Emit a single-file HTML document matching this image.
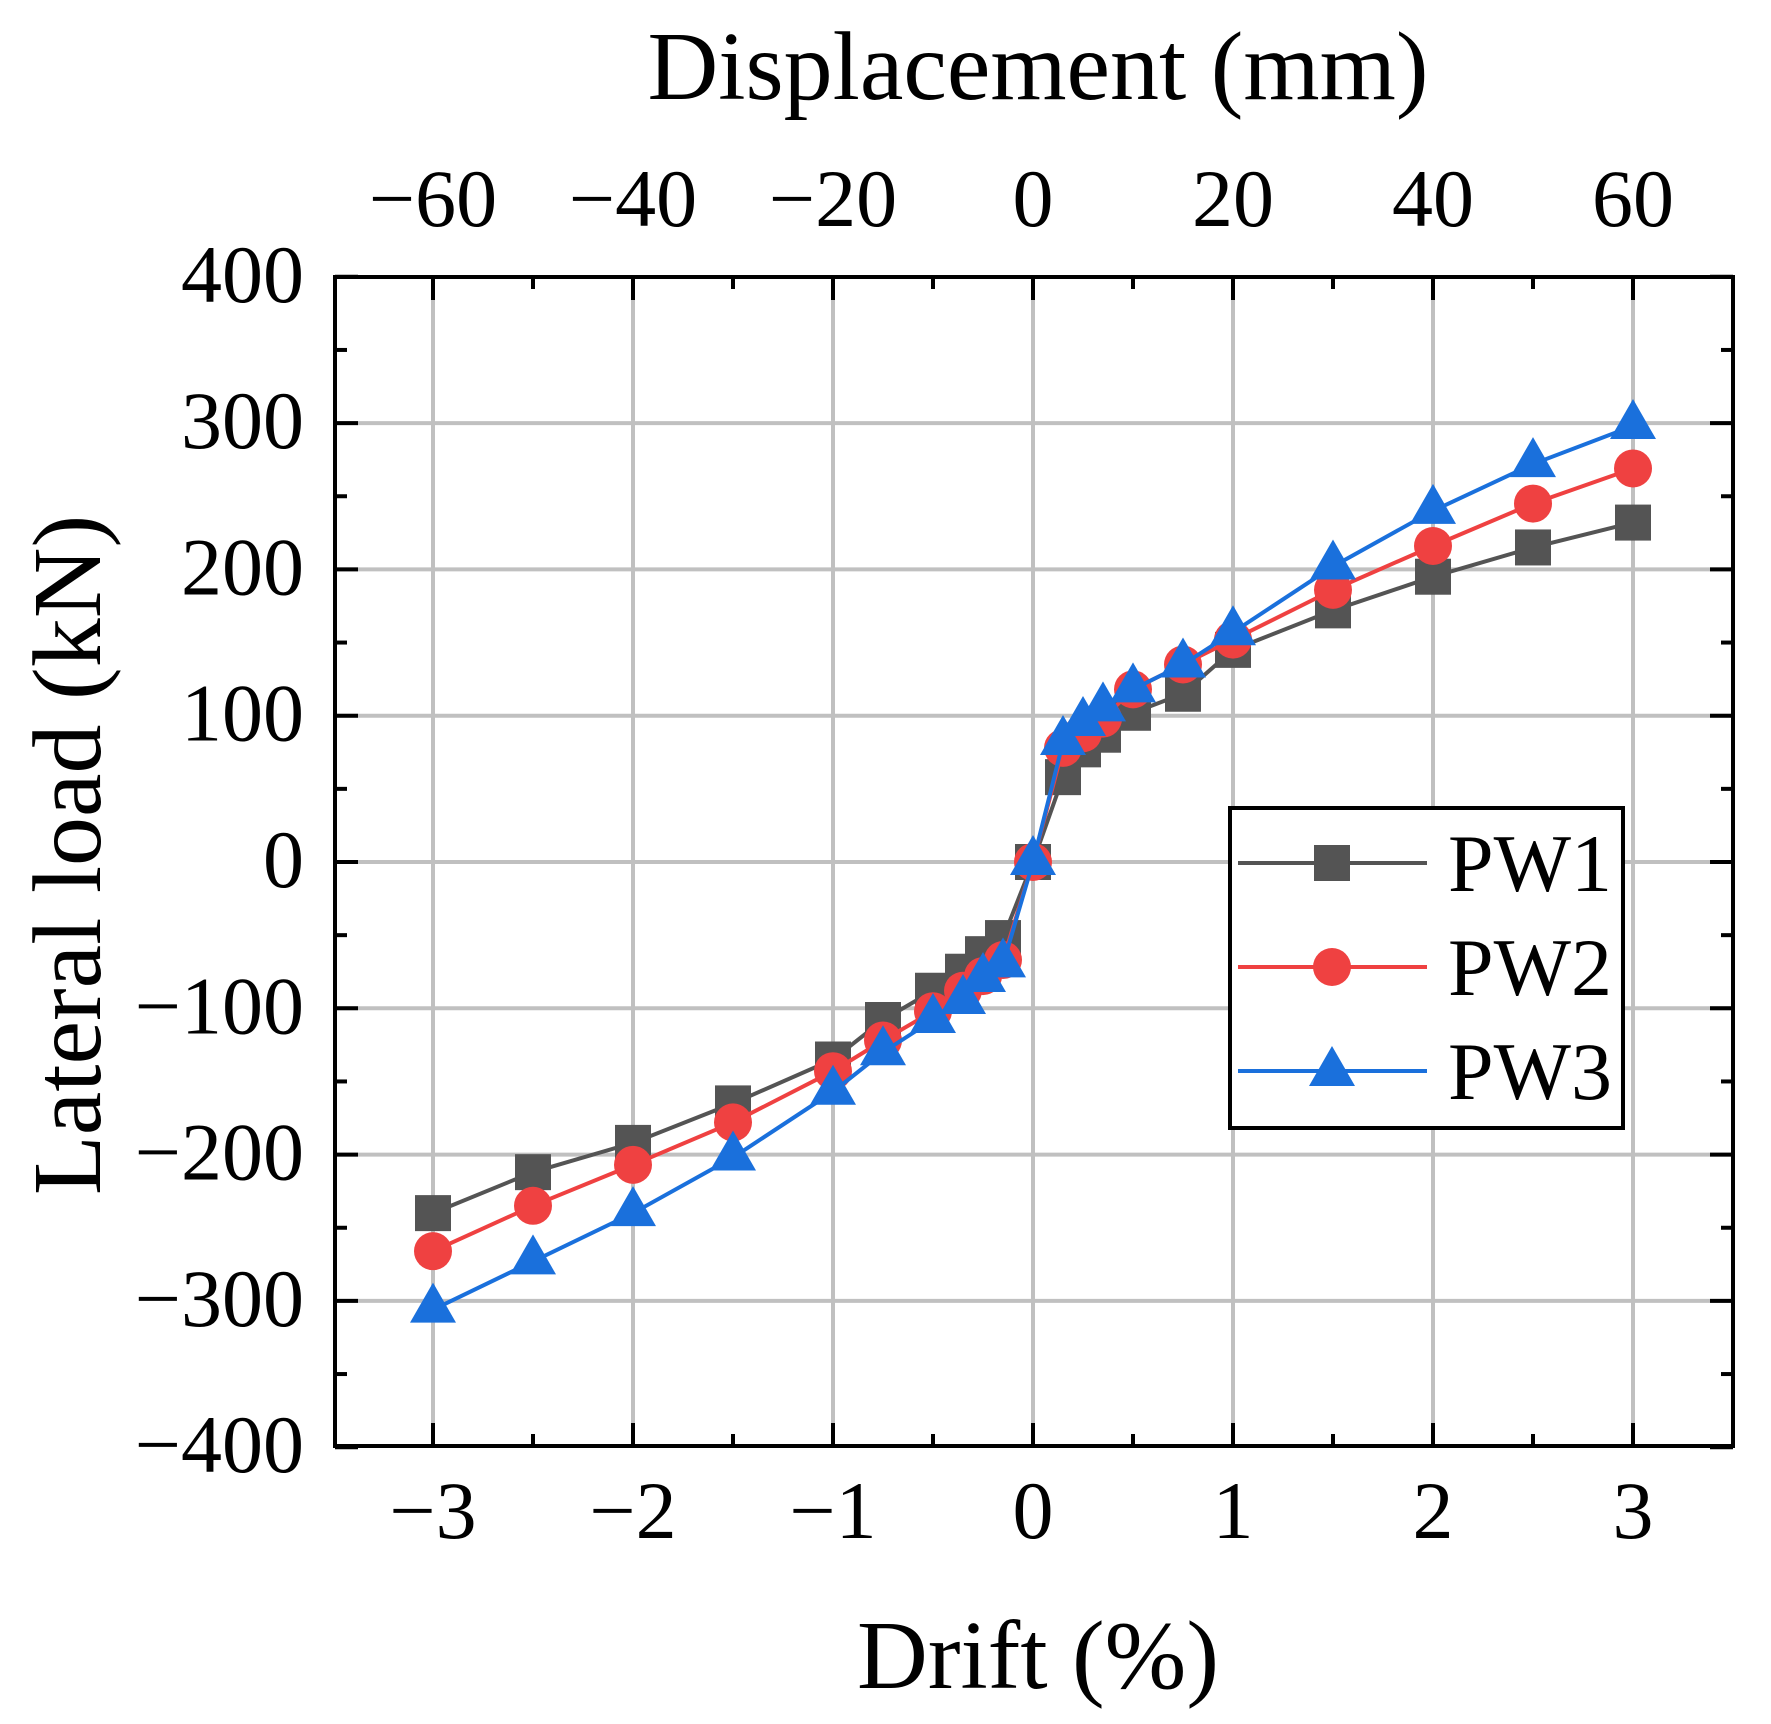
<!DOCTYPE html>
<html><head><meta charset="utf-8"><style>
html,body{margin:0;padding:0;background:#fff;}
svg{display:block;font-family:"Liberation Serif","Times New Roman",serif;}
</style></head><body>
<svg id="chart" width="1771" height="1724" viewBox="0 0 1771 1724" xmlns="http://www.w3.org/2000/svg">
<g id="grid"></g>
<g id="series"></g>
<rect x="335" y="277" width="1398" height="1169" fill="none" stroke="#000" stroke-width="4"/>
<g id="ticks"></g>
<g id="labels" font-size="82" fill="#000"></g>
<text x="1038" y="99" font-size="98" text-anchor="middle">Displacement (mm)</text>
<text x="1038" y="1688" font-size="98" text-anchor="middle">Drift (%)</text>
<text transform="translate(100,855) rotate(-90)" font-size="98" text-anchor="middle">Lateral load (kN)</text>
<g id="legend">
<rect x="1230" y="808" width="393" height="320" fill="#fff" stroke="#000" stroke-width="4"/>
</g>
</svg>
<script>
const drift = [-3,-2.5,-2,-1.5,-1,-0.75,-0.5,-0.35,-0.25,-0.15,0,0.15,0.25,0.35,0.5,0.75,1,1.5,2,2.5,3];
const pw1 = [-240,-212,-192,-165,-135,-108,-88,-75,-63,-52,0,58,77,87,102,115,145,172,195,215,232];
const pw2 = [-266,-235,-207,-178,-143,-122,-102,-88,-78,-67,0,78,88,98,118,135,152,186,216,245,269];
const pw3 = [-306,-273,-240,-202,-157,-130,-108,-95,-80,-70,0,82,95,105,118,135,157,202,240,272,298];
const seriesNames = ["PW1","PW2","PW3"];
const xTicks = [-3,-2,-1,0,1,2,3];
const xTickLabels = ["\u22123","\u22122","\u22121","0","1","2","3"];
const topTickLabels = ["\u221260","\u221240","\u221220","0","20","40","60"];
const yTicks = [-400,-300,-200,-100,0,100,200,300,400];
const yTickLabels = ["\u2212400","\u2212300","\u2212200","\u2212100","0","100","200","300","400"];

const NS="http://www.w3.org/2000/svg";
const X = d => 1033 + d*200;
const Y = v => 862 - v*1.463;
function mk(tag, attrs, parent){const e=document.createElementNS(NS,tag);for(const k in attrs)e.setAttribute(k,attrs[k]);parent.appendChild(e);return e;}
const grid=document.getElementById('grid'), ticks=document.getElementById('ticks'), labels=document.getElementById('labels'), ser=document.getElementById('series'), leg=document.getElementById('legend');
const L=335,R=1733,T=277,B=1446;
xTicks.forEach((d,i)=>{
  const x=X(d);
  const g=mk('line',{x1:x,y1:T,x2:x,y2:B,stroke:'#c0c0c0','stroke-width':4},grid);
  
  
  [[B,B-23],[T,T+23]].forEach(p=>{const t=mk('line',{x1:x,y1:p[0],x2:x,y2:p[1],stroke:'#000','stroke-width':4},ticks);
    
    });
  const xm=X(d+0.5);
  if(xm<R-5){[[B,B-12],[T,T+12]].forEach(p=>{const t=mk('line',{x1:xm,y1:p[0],x2:xm,y2:p[1],stroke:'#000','stroke-width':4},ticks);
    
    });}
  const lb=mk('text',{x:x,y:1538,'text-anchor':'middle'},labels); lb.textContent=xTickLabels[i];
  
  
  const lt=mk('text',{x:x,y:226,'text-anchor':'middle'},labels); lt.textContent=topTickLabels[i];
  
  
});
yTicks.forEach((v,i)=>{
  const y=Y(v);
  if(v>-400&&v<400){const g=mk('line',{x1:L,y1:y,x2:R,y2:y,stroke:'#c0c0c0','stroke-width':4},grid);
    
    }
  [[L,L+23],[R,R-23]].forEach(p=>{const t=mk('line',{x1:p[0],y1:y,x2:p[1],y2:y,stroke:'#000','stroke-width':4},ticks);
    
    });
  if(v<400){const ym=Y(v+50);[[L,L+12],[R,R-12]].forEach(p=>{const t=mk('line',{x1:p[0],y1:ym,x2:p[1],y2:ym,stroke:'#000','stroke-width':4},ticks);
    
    });}
  const lb=mk('text',{x:304,y:y+25,'text-anchor':'end'},labels); lb.textContent=yTickLabels[i];
  
  
});
const colors=['#545454','#ef4141','#1a70dc'];
const shapes=['square','circle','triangle'];
function marker(shape,x,y,c,parent,name){
  let m;
  if(shape==='square') m=mk('rect',{x:x-18,y:y-18,width:36,height:36,fill:c},parent);
  else if(shape==='circle') m=mk('circle',{cx:x,cy:y,r:19,fill:c},parent);
  else m=mk('polygon',{points:`${x},${y-27} ${x-23},${y+13} ${x+23},${y+13}`,fill:c},parent);
  
  
}
[pw1,pw2,pw3].forEach((vals,si)=>{
  const g=mk('g',{},ser);
  
  
  const pts=drift.map((d,i)=>X(d)+','+Y(vals[i])).join(' ');
  const pl=mk('polyline',{points:pts,fill:'none',stroke:colors[si],'stroke-width':4},g);
  
  
  drift.forEach((d,i)=>marker(shapes[si],X(d),Y(vals[i]),colors[si],g,'point-'+seriesNames[si].toLowerCase()));
});
const rowY=[863,967,1071];
seriesNames.forEach((n,si)=>{
  const g=mk('g',{},leg);
  
  
  const ln=mk('line',{x1:1238,y1:rowY[si],x2:1427,y2:rowY[si],stroke:colors[si],'stroke-width':4},g);
  
  
  marker(shapes[si],1332,rowY[si]+(si===2?2:0),colors[si],g,'legend-marker');
  const t=mk('text',{x:1448,y:rowY[si]+28,'font-size':82},g); t.textContent=n;
  
  
});
</script>
</body></html>
